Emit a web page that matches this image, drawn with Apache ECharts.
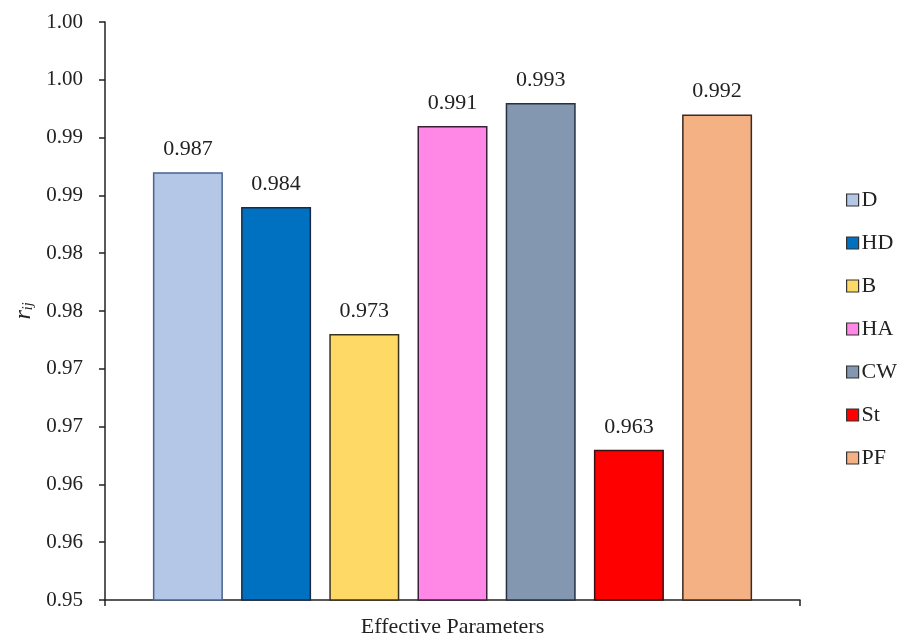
<!DOCTYPE html>
<html>
<head>
<meta charset="utf-8">
<script src="https://cdn.jsdelivr.net/npm/echarts@6/dist/echarts.min.js"></script>
<style>
  html, body { margin: 0; padding: 0; background: #fff; }
  #chart { width: 901px; height: 637px; }
</style>
</head>
<body>
<div id="chart"></div>
<script>
// Correlation coefficient r_ij for each effective parameter
const parameters = ['D', 'HD', 'B', 'HA', 'CW', 'St', 'PF'];
const rValues = [0.987, 0.984, 0.973, 0.991, 0.993, 0.963, 0.992];
const fillColors = ['#B4C7E7', '#0070C0', '#FFD966', '#FF88E6', '#8497B0', '#FF0000', '#F4B183'];
const edgeColors = ['#4A6290', '#1A2A44', '#3A3020', '#3A1F36', '#263040', '#3A1010', '#3A2A20'];
// Tick labels on the r_ij axis (two decimals, step 0.005)
const yTickLabels = ['0.95', '0.96', '0.96', '0.97', '0.97', '0.98', '0.98', '0.99', '0.99', '1.00', '1.00'];
const yMin = 0.95, yMax = 1.0, yStep = 0.005;

const serif = 'Liberation Serif, Times New Roman, serif';
const chart = echarts.init(document.getElementById('chart'));

const series = parameters.map((name, i) => ({
  name: name,
  type: 'bar',
  data: [rValues[i]],
  barWidth: 70,
  barGap: '26%',
  itemStyle: { color: fillColors[i], borderColor: edgeColors[i], borderWidth: 1.5 },
  label: {
    show: true,
    position: 'top',
    distance: 12,
    fontFamily: serif,
    fontSize: 22,
    color: '#222',
    formatter: p => p.value.toFixed(3)
  }
}));

chart.setOption({
  backgroundColor: '#ffffff',
  animation: false,
  grid: { left: 105, right: 101, top: 22, bottom: 37, containLabel: false, outerBoundsMode: 'none' },
  legend: {
    orient: 'vertical',
    left: 841,
    top: 184,
    itemWidth: 12,
    itemHeight: 12,
    itemGap: 21,
    icon: 'rect',
    itemStyle: { borderColor: '#333', borderWidth: 1.2 },
    textStyle: { fontFamily: serif, fontSize: 22, color: '#222', padding: [0, 0, 0, -2] },
    data: parameters
  },
  xAxis: {
    type: 'category',
    data: [''],
    name: 'Effective Parameters',
    nameLocation: 'middle',
    nameGap: 16,
    nameTextStyle: { fontFamily: serif, fontSize: 22, color: '#222' },
    axisLine: { lineStyle: { color: '#222', width: 1.5 } },
    axisTick: { show: true, length: 6, lineStyle: { color: '#222', width: 1.5 } },
    axisLabel: { show: false },
    splitLine: { show: false }
  },
  yAxis: {
    type: 'value',
    min: yMin,
    max: yMax,
    interval: yStep,
    name: '{r|r}{s|ij}',
    nameLocation: 'middle',
    nameRotate: 90,
    nameGap: 67,
    nameTextStyle: {
      rich: {
        r: { fontFamily: serif, fontStyle: 'italic', fontSize: 24, color: '#222' },
        s: { fontFamily: serif, fontStyle: 'italic', fontSize: 14, color: '#222', padding: [10, 0, 0, 0] }
      }
    },
    axisLine: { show: true, lineStyle: { color: '#222', width: 1.5 } },
    axisTick: { show: true, inside: false, length: 6, lineStyle: { color: '#222', width: 1.5 } },
    axisLabel: {
      margin: 22,
      fontFamily: serif,
      fontSize: 21,
      color: '#222',
      formatter: v => yTickLabels[Math.round((v - yMin) / yStep)]
    },
    splitLine: { show: false }
  },
  series: series
});
</script>
</body>
</html>
